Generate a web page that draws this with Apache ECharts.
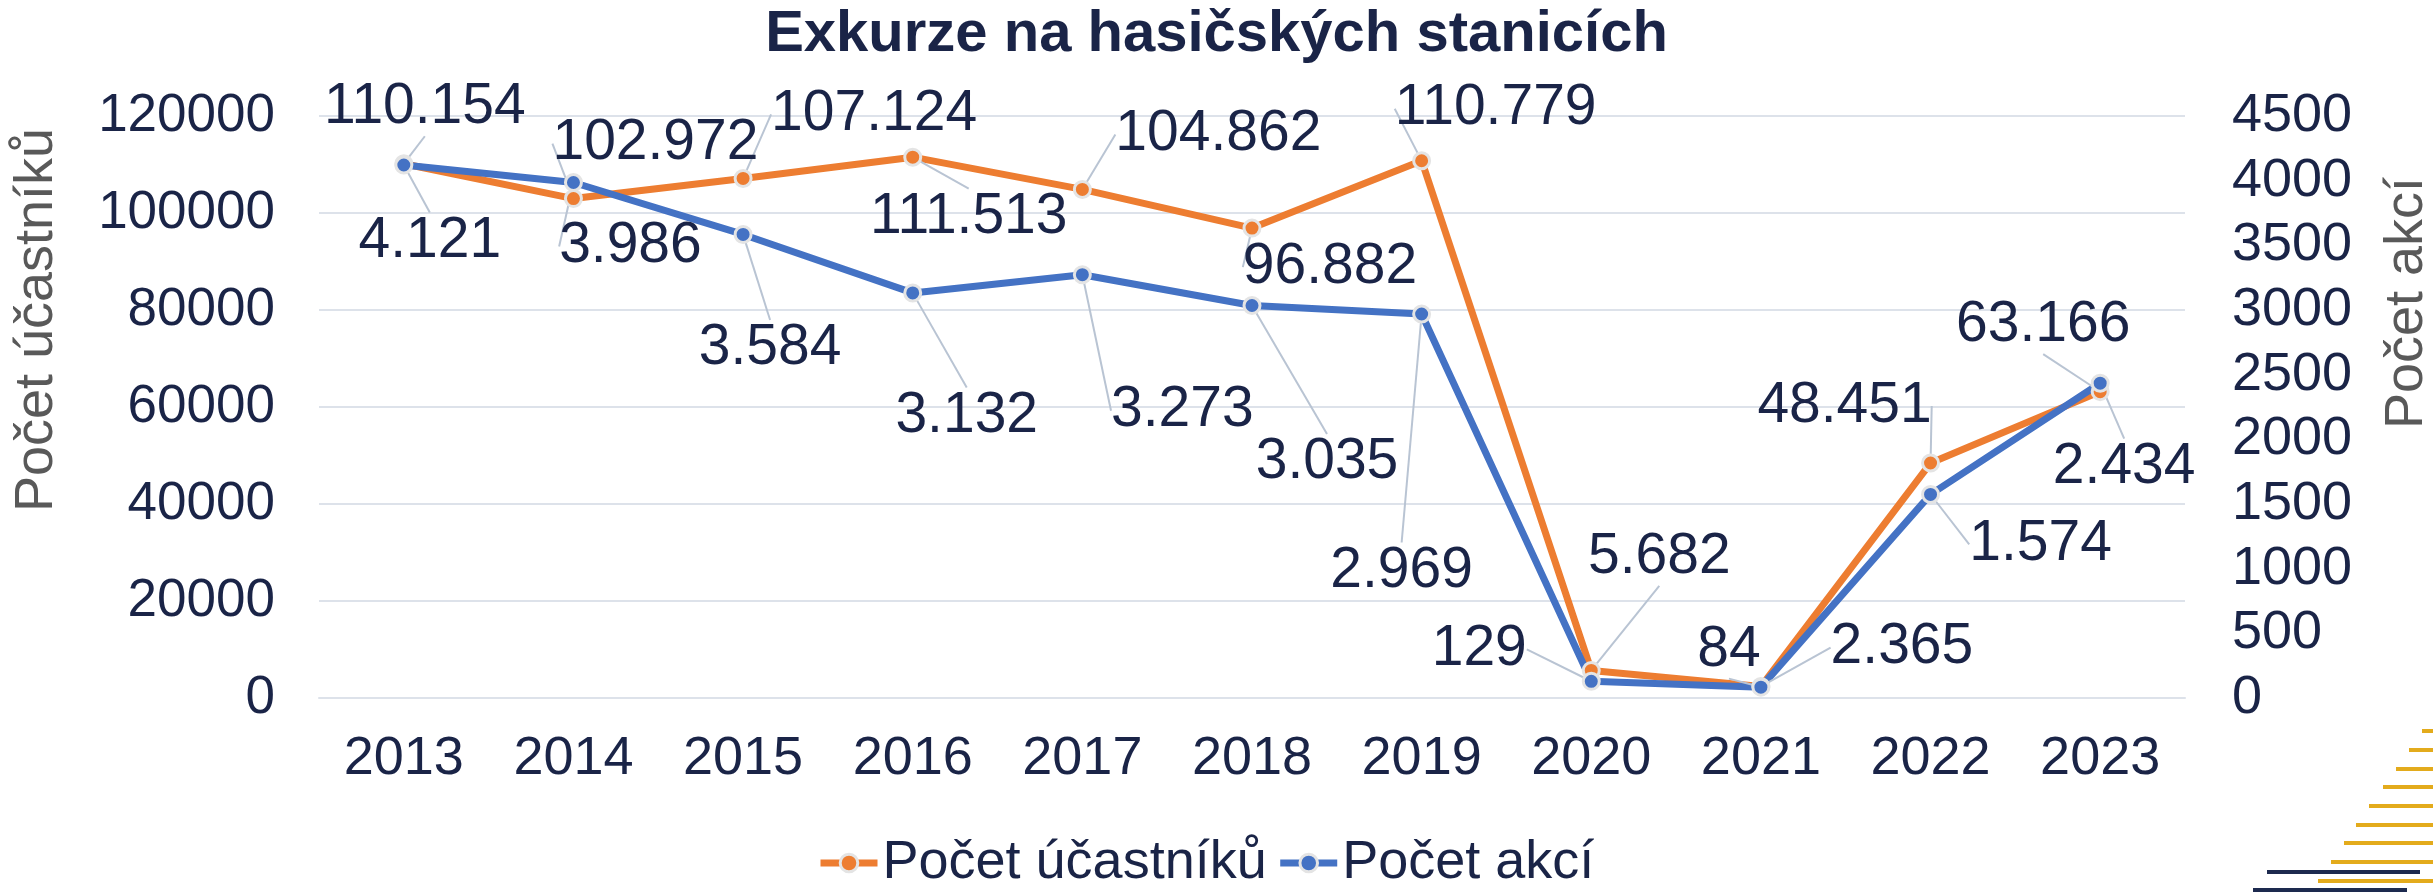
<!DOCTYPE html>
<html>
<head>
<meta charset="utf-8">
<title>Exkurze na hasičských stanicích</title>
<script src="https://cdn.jsdelivr.net/npm/echarts@6/dist/echarts.min.js"></script>
<style>
  html, body { margin: 0; padding: 0; background: #fff; }
  #main { width: 2433px; height: 895px; }
</style>
</head>
<body>
<div id="main"></div>
<script>
(function () {

  var years = ['2013', '2014', '2015', '2016', '2017', '2018', '2019', '2020', '2021', '2022', '2023'];
  var ucastnici = [110154, 102972, 107124, 111513, 104862, 96882, 110779, 5682, 2365, 48451, 63166];
  var akce = [4121, 3986, 3584, 3132, 3273, 3035, 2969, 129, 84, 1574, 2434];

  // label offsets from the point (px), as placed in the original
  var ucastniciDx = [21, 82, 131, 56, 136, 78, 74, 68, 141, -86, -57];
  var ucastniciDy = [-56, -55, -64, 60, -55, 39, -52, -113, -39, -57, -66];
  var akceDx = [26, 57, 27, 54, 100, 75, -20, -112, -32, 110, 24];
  var akceDy = [76, 64, 114, 123, 136, 157, 257, -32, -37, 50, 84];

  var navy = '#1a2447';
  var font = 'Liberation Sans, Arial, sans-serif';

  function fmt(v) {
    return String(v).replace(/\B(?=(\d{3})+(?!\d))/g, '.');
  }

  function layoutWith(dx, dy) {
    return function (params) {
      var r = params.rect;
      var i = params.dataIndex;
      return {
        x: r.x + r.width / 2 + dx[i],
        y: r.y + r.height / 2 + dy[i],
        align: 'center',
        verticalAlign: 'middle'
      };
    };
  }

  var labelStyle = {
    show: true,
    fontSize: 57,
    color: navy,
    fontFamily: font,
    formatter: function (p) { return fmt(p.value); }
  };
  var leader = {
    show: true,
    length2: 0,
    lineStyle: { color: '#b9c4d3', width: 2 }
  };

  // gold/navy stripes in the lower right corner
  var stripes = [];
  var stripeY = [731, 750, 769, 787, 806, 825, 843, 862, 881];
  var stripeX = [2422, 2409, 2396, 2383, 2369, 2356, 2344, 2331, 2318];
  for (var k = 0; k < stripeY.length; k++) {
    stripes.push({
      type: 'rect', silent: true,
      shape: { x: stripeX[k], y: stripeY[k] - 2, width: 2433 - stripeX[k], height: 4 },
      style: { fill: '#e3ab1c' }
    });
  }
  stripes.push({ type: 'rect', silent: true, shape: { x: 2267, y: 870, width: 153, height: 4 }, style: { fill: '#1d2a4f' } });
  stripes.push({ type: 'rect', silent: true, shape: { x: 2253, y: 888, width: 154, height: 4 }, style: { fill: '#1d2a4f' } });

  var myChart = echarts.init(document.getElementById('main'));

  var option = {
    animation: false,
    textStyle: { fontFamily: font },
    title: {
      text: 'Exkurze na hasičských stanicích',
      left: 'center',
      top: 1,
      textStyle: { fontSize: 58, fontWeight: 'bold', color: navy, fontFamily: font }
    },
    legend: {
      bottom: 0,
      left: 812,
      itemWidth: 57,
      itemHeight: 22,
      itemGap: 10,
      lineStyle: { width: 7 },
      itemStyle: { borderColor: '#e4e4e4', borderWidth: 3 },
      textStyle: { fontSize: 54, color: navy, fontFamily: font },
      data: ['Počet účastníků', 'Počet akcí']
    },
    grid: { left: 319, right: 248, top: 116, bottom: 197 },
    xAxis: {
      type: 'category',
      data: years,
      boundaryGap: true,
      axisLine: { show: true, lineStyle: { color: '#dde2ea', width: 2 } },
      axisTick: { show: false },
      axisLabel: { fontSize: 54, color: navy, margin: 34, fontFamily: font }
    },
    yAxis: [{
      type: 'value',
      min: 0, max: 120000, interval: 20000,
      axisLine: { show: false },
      axisTick: { show: false },
      splitLine: { lineStyle: { color: '#dde2ea', width: 2 } },
      axisLabel: {
        fontSize: 53, color: navy, margin: 44, fontFamily: font,
        formatter: function (v) { return String(v); }
      }
    }, {
      type: 'value',
      position: 'right',
      min: 0, max: 4500, interval: 500,
      axisLine: { show: false },
      axisTick: { show: false },
      splitLine: { show: false },
      axisLabel: {
        fontSize: 54, color: navy, margin: 47, fontFamily: font,
        formatter: function (v) { return String(v); }
      }
    }],
    graphic: [{
      type: 'text',
      x: 37, y: 320,
      rotation: Math.PI / 2,
      style: {
        text: 'Počet účastníků', fontSize: 54, fill: '#595959', fontFamily: font,
        align: 'center', verticalAlign: 'middle'
      }
    }, {
      type: 'text',
      x: 2407, y: 303,
      rotation: Math.PI / 2,
      style: {
        text: 'Počet akcí', fontSize: 54, fill: '#595959', fontFamily: font,
        align: 'center', verticalAlign: 'middle'
      }
    }].concat(stripes),
    series: [{
      name: 'Počet účastníků',
      type: 'line',
      yAxisIndex: 0,
      data: ucastnici,
      symbol: 'circle',
      symbolSize: 16,
      lineStyle: { color: '#ed7d31', width: 7 },
      itemStyle: { color: '#ed7d31', borderColor: '#e4e4e4', borderWidth: 3 },
      label: labelStyle,
      labelLine: leader,
      labelLayout: layoutWith(ucastniciDx, ucastniciDy)
    }, {
      name: 'Počet akcí',
      type: 'line',
      yAxisIndex: 1,
      data: akce,
      symbol: 'circle',
      symbolSize: 16,
      lineStyle: { color: '#4472c4', width: 7 },
      itemStyle: { color: '#4472c4', borderColor: '#e4e4e4', borderWidth: 3 },
      label: labelStyle,
      labelLine: leader,
      labelLayout: layoutWith(akceDx, akceDy)
    }]
  };

  myChart.setOption(option);

})();
</script>
</body>
</html>
